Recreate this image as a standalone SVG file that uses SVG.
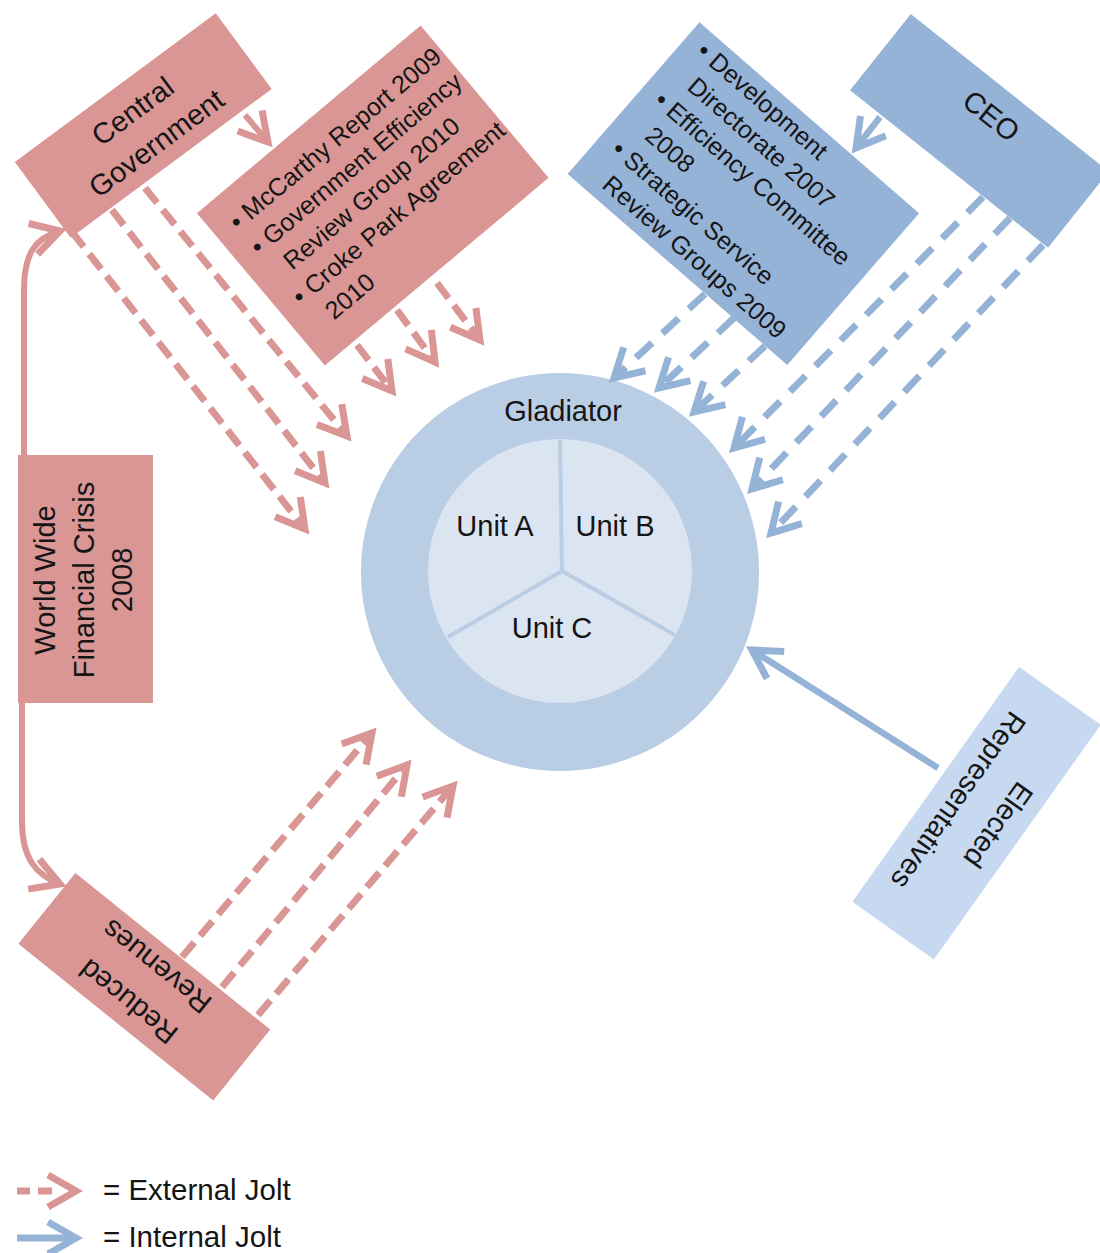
<svg xmlns="http://www.w3.org/2000/svg" width="1100" height="1253" viewBox="0 0 1100 1253">
  <defs>
    <style>
      text { font-family: "Liberation Sans", Arial, sans-serif; fill: #151515; }
      .lbl { font-size: 29px; }
      .key { font-size: 29.5px; }
      .lst { font-size: 25px; }
      .mid { text-anchor: middle; }
      .red { fill: #D99694; }
      .blue { fill: #95B3D7; }
      .pale { fill: #C6D9F0; }
      .ext { fill: none; stroke: #D99694; stroke-width: 7; stroke-dasharray: 19 9; marker-end: url(#head-ext); }
      .ext-solid { fill: none; stroke: #D99694; stroke-width: 6; marker-end: url(#head-ext); }
      .int { fill: none; stroke: #95B3D7; stroke-width: 7; stroke-dasharray: 22 14; marker-end: url(#head-int); }
      .int-solid { fill: none; stroke: #95B3D7; stroke-width: 6.5; marker-end: url(#head-int); }
    </style>
    <marker id="head-ext" markerUnits="userSpaceOnUse" orient="auto" refX="0" refY="0" markerWidth="1" markerHeight="1" overflow="visible">
      <path d="M -28 -16 L 0 0 L -28 16" fill="none" stroke="#D99694" stroke-width="7"/>
    </marker>
    <marker id="head-int" markerUnits="userSpaceOnUse" orient="auto" refX="0" refY="0" markerWidth="1" markerHeight="1" overflow="visible">
      <path d="M -28 -16 L 0 0 L -28 16" fill="none" stroke="#95B3D7" stroke-width="7"/>
    </marker>
  </defs>

  <rect width="1100" height="1253" fill="#ffffff"/>

  <!-- organisation at the centre -->
  <g id="gladiator">
    <circle cx="560" cy="572" r="199" fill="#B9CDE5"/>
    <circle cx="560" cy="571" r="132" fill="#DBE5F1"/>
    <path d="M 562 571 L 560 440 M 562 571 L 448 637 M 562 571 L 675 635" fill="none" stroke="#B9CDE5" stroke-width="4"/>
    <text class="lbl mid" x="563" y="421">Gladiator</text>
    <text class="lbl mid" x="495" y="536">Unit A</text>
    <text class="lbl mid" x="615" y="536">Unit B</text>
    <text class="lbl mid" x="552" y="638">Unit C</text>
  </g>

  <!-- jolts -->
  <g id="connectors">
    <!-- external: Central Government -->
    <path class="ext" d="M 72 232 L 305 529"/>
    <path class="ext" d="M 112 210 L 325 483"/>
    <path class="ext" d="M 145 188 L 347 436"/>
    <!-- external: reports -->
    <path class="ext" d="M 357 345 L 392 391"/>
    <path class="ext" d="M 397 310 L 435 362"/>
    <path class="ext" d="M 437 283 L 480 340"/>
    <!-- external: reduced revenues -->
    <path class="ext" d="M 182 957 L 372 733"/>
    <path class="ext" d="M 222 987 L 407 765"/>
    <path class="ext" d="M 258 1015 L 453 786"/>
    <!-- external: solid links -->
    <path class="ext-solid" d="M 245 115 L 268 142"/>
    <path class="ext-solid" d="M 24 455 L 24 290 C 24 252 36 238 60 231"/>
    <path class="ext-solid" d="M 22 703 L 22 822 C 22 858 36 875 60 884"/>
    <!-- internal: management initiatives -->
    <path class="int" d="M 705 294 L 614 378"/>
    <path class="int" d="M 734 318 L 659 388"/>
    <path class="int" d="M 765 346 L 694 412"/>
    <!-- internal: CEO -->
    <path class="int" d="M 983 197 L 734 448"/>
    <path class="int" d="M 1010 218 L 752 489"/>
    <path class="int" d="M 1043 245 L 771 533"/>
    <!-- internal: solid links -->
    <path class="int-solid" d="M 880 117 L 856 148"/>
    <path class="int-solid" d="M 938 768 L 752 650"/>
  </g>

  <g id="central-government" transform="translate(143.25 125.5) rotate(-36.5)">
    <rect class="red" x="-125" y="-47" width="250" height="94"/>
    <text class="lbl mid"><tspan x="0" y="-8">Central</tspan><tspan x="0" y="32">Government</tspan></text>
  </g>

  <g id="government-reports" transform="translate(372.75 195.5) rotate(-40)">
    <rect class="red" x="-146" y="-99.5" width="292" height="199"/>
    <text class="lst">
      <tspan x="-126" y="-59">•</tspan><tspan x="-110" y="-59">McCarthy Report 2009</tspan>
      <tspan x="-126" y="-26.5">•</tspan><tspan x="-110" y="-26.5">Government Efficiency</tspan>
      <tspan x="-110" y="6">Review Group 2010</tspan>
      <tspan x="-126" y="38.5">•</tspan><tspan x="-110" y="38.5">Croke Park Agreement</tspan>
      <tspan x="-110" y="71">2010</tspan>
    </text>
  </g>

  <g id="management-initiatives" transform="translate(743.35 193.65) rotate(41)">
    <rect class="blue" x="-145.5" y="-100.5" width="291" height="201"/>
    <text class="lst">
      <tspan x="-128" y="-74">•</tspan><tspan x="-112" y="-74">Development</tspan>
      <tspan x="-112" y="-41.5">Directorate 2007</tspan>
      <tspan x="-128" y="-9">•</tspan><tspan x="-112" y="-9">Efficiency Committee</tspan>
      <tspan x="-112" y="23.5">2008</tspan>
      <tspan x="-128" y="56">•</tspan><tspan x="-112" y="56">Strategic Service</tspan>
      <tspan x="-112" y="88.5">Review Groups 2009</tspan>
    </text>
  </g>

  <g id="ceo" transform="translate(979.4 130.9) rotate(38.5)">
    <rect class="blue" x="-126.5" y="-48.75" width="253" height="97.5"/>
    <text class="lbl mid" x="0" y="-9">CEO</text>
  </g>

  <g id="financial-crisis">
    <rect class="red" x="18" y="455" width="135" height="248"/>
    <text class="lbl mid" transform="translate(85.5 580) rotate(-90)"><tspan x="0" y="-30.5">World Wide</tspan><tspan x="0" y="8.5">Financial Crisis</tspan><tspan x="0" y="46.5">2008</tspan></text>
  </g>

  <g id="reduced-revenues" transform="translate(144.3 986.7) rotate(218.8)">
    <rect class="red" x="-125" y="-45.5" width="250" height="91"/>
    <text class="lbl mid"><tspan x="3" y="-11.7">Reduced</tspan><tspan x="3" y="33.4">Revenues</tspan></text>
  </g>

  <g id="elected-representatives" transform="translate(976.5 813.25) rotate(125.4)">
    <rect class="pale" x="-144" y="-50" width="288" height="100"/>
    <text class="lbl mid"><tspan x="-3" y="-14.6">Elected</tspan><tspan x="0" y="32">Representatives</tspan></text>
  </g>

  <g id="legend">
    <path d="M 17 1191 L 76 1191" fill="none" stroke="#D99694" stroke-width="7" stroke-dasharray="13 8 14 100" marker-end="url(#head-ext)"/>
    <text class="key" x="103" y="1200">= External Jolt</text>
    <path d="M 17 1238 L 76 1238" fill="none" stroke="#95B3D7" stroke-width="7" marker-end="url(#head-int)"/>
    <text class="key" x="103" y="1247">= Internal Jolt</text>
  </g>
</svg>
